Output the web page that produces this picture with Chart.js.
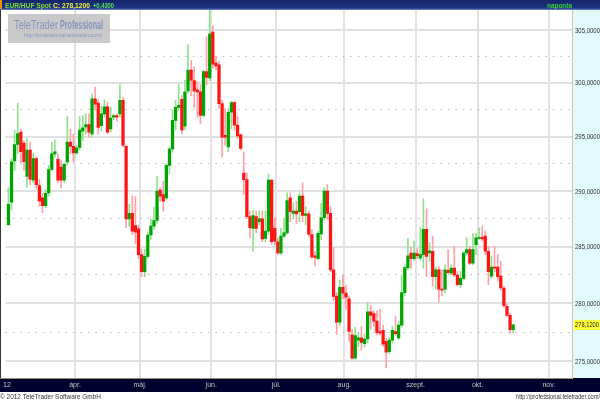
<!DOCTYPE html>
<html>
<head>
<meta charset="utf-8">
<script src="https://cdn.jsdelivr.net/npm/chart.js@4.4.1/dist/chart.umd.min.js"></script>
<style>
html,body{margin:0;padding:0;background:#fff;overflow:hidden}
#wrap{width:600px;height:400px}
</style>
</head>
<body>
<div id="wrap"><canvas id="chart" width="600" height="400"></canvas></div>
<script>
// daily EUR/HUF candles, 1 Mar 2012 .. 16 Oct 2012 (trading days)
const opens=[286.97,289.0,292.76,294.27,295.4,294.4,291.35,293.75,291.0,292.97,
290.5,289.4,288.7,289.85,291.97,293.4,292.9,292.2,291.0,292.66,
294.5,294.1,293.5,294.0,295.5,295.9,296.1,295.25,298.5,298.1,
296.0,297.1,297.75,295.7,296.8,296.95,297.1,298.35,294.1,287.5,
288.0,286.9,286.6,284.3,282.8,284.15,286.05,286.85,287.35,290.1,
289.7,289.4,292.35,293.85,296.5,297.7,298.45,295.95,299.25,301.2,
300.2,299.35,299.15,296.95,301.05,300.45,304.8,301.85,301.7,298.05,
295.1,294.05,297.25,298.15,296.05,295.15,291.65,291.05,287.7,286.65,
287.7,287.25,287.5,285.75,286.4,291.0,286.65,285.45,284.45,285.95,
286.25,289.4,288.0,288.2,288.15,289.55,287.8,287.95,286.1,284.2,
283.95,286.15,287.6,290.0,288.0,282.95,280.65,278.35,281.4,280.9,
280.4,277.25,275.25,276.8,277.0,276.5,276.9,279.25,279.1,278.45,
277.55,277.65,276.7,275.8,276.8,277.55,277.0,278.1,280.95,283.15,
284.45,283.95,284.4,284.0,284.3,286.55,284.45,284.6,282.35,282.95,
281.25,281.25,282.9,282.65,283.1,282.5,281.65,282.2,284.45,284.75,
283.55,285.2,285.75,285.85,285.95,284.6,282.4,283.2,283.2,282.4,
281.35,279.75,278.95,277.7];
const highs=[290.3,293.0,295.55,298.1,295.7,294.6,294.8,294.5,293.45,293.1,
291.05,289.8,290.15,292.35,294.5,294.7,293.4,292.8,292.6,296.9,
295.7,295.25,294.2,296.85,296.95,297.1,297.1,298.95,299.6,298.4,
297.8,298.4,298.2,297.75,297.1,297.1,299.8,298.65,294.2,288.8,
289.55,289.5,286.9,284.75,284.75,286.3,287.5,288.55,291.35,290.3,
290.9,292.5,294.05,297.45,298.35,299.8,298.8,300.25,303.6,302.1,
301.5,300.1,299.8,301.2,304.35,306.9,305.4,302.5,302.0,298.4,
297.6,297.6,298.3,298.3,296.85,295.25,293.6,291.65,288.2,288.25,
288.2,288.2,288.2,288.2,291.55,291.05,287.55,285.8,286.65,287.55,
289.85,289.85,288.95,289.1,289.85,290.75,288.6,288.2,286.55,284.6,
286.4,288.9,290.3,290.6,288.6,284.9,280.95,282.05,282.5,281.6,
280.65,277.7,277.9,277.4,278.0,277.35,280.1,279.8,279.35,279.35,
279.5,278.1,276.95,277.0,278.0,278.9,278.4,282.5,283.4,285.75,
284.95,285.5,284.85,286.7,289.3,288.4,285.35,285.95,283.25,283.25,
282.95,283.4,284.75,283.4,285.05,282.8,282.8,284.6,285.8,285.05,
286.2,286.2,286.7,286.85,286.4,285.05,284.15,285.05,284.3,283.7,
281.5,279.95,279.15,278.2];
const lows=[286.85,288.3,291.9,293.45,292.6,291.9,290.35,290.6,290.75,290.15,
288.65,288.05,288.5,289.55,291.9,293.1,290.75,290.3,290.75,292.35,
293.4,292.66,293.3,293.75,294.65,295.25,294.95,294.95,297.45,295.25,
295.5,296.8,295.25,295.4,296.55,296.4,296.8,294.05,286.7,286.85,
286.1,285.3,283.95,282.35,282.35,283.95,285.65,286.55,287.1,289.1,
288.2,289.25,291.6,293.55,295.6,297.45,295.25,295.6,299.0,298.8,
297.7,296.8,296.2,296.8,299.8,300.2,301.35,301.2,297.6,293.1,
294.2,293.6,295.7,295.6,294.85,293.75,289.7,287.55,285.8,284.6,
286.25,286.95,285.45,285.45,286.1,285.2,285.2,284.3,284.3,285.8,
286.1,287.25,287.5,287.1,287.25,287.25,286.95,285.95,283.95,283.3,
283.85,285.65,287.4,287.45,282.8,280.25,277.3,278.05,280.4,279.5,
276.7,275.15,275.15,276.25,275.95,276.2,276.55,277.75,277.95,277.25,
277.25,276.25,274.4,275.6,276.55,277.2,276.85,277.9,280.65,282.95,
283.05,283.75,283.95,283.85,283.1,282.35,283.7,281.5,281.25,280.1,
280.65,280.9,282.65,282.5,282.35,281.5,281.35,282.05,284.3,283.4,
283.4,284.3,285.65,285.5,284.3,281.65,282.2,282.8,281.95,281.15,
279.65,278.9,277.4,277.4];
const closes=[288.8,292.67,294.27,295.27,293.6,292.7,293.75,291.1,292.97,290.6,
289.1,288.7,289.8,291.97,293.4,293.6,291.0,291.0,292.45,294.5,
294.1,293.5,293.95,295.6,295.8,296.1,295.4,298.5,298.0,295.85,
297.1,297.75,295.4,296.7,296.95,296.8,298.35,294.2,287.5,288.0,
286.4,286.3,284.3,282.8,284.15,286.05,286.85,287.35,290.0,289.55,
289.1,292.35,293.85,296.5,297.7,297.9,295.6,299.15,301.2,300.25,
299.25,299.15,296.95,301.05,300.5,304.6,301.75,301.6,298.05,294.95,
294.95,297.25,298.15,296.05,295.05,293.9,291.05,287.7,286.7,287.8,
286.65,287.5,285.7,286.4,291.0,285.45,285.5,284.45,285.95,286.25,
289.15,288.15,288.2,287.95,289.55,287.8,287.95,286.1,284.1,284.05,
286.2,287.6,290.0,288.0,282.95,280.6,278.35,281.4,280.9,280.55,
277.55,275.25,277.2,277.0,276.6,276.9,279.25,278.95,278.45,277.45,
277.4,276.45,275.75,276.8,277.65,277.35,278.1,280.95,283.15,284.2,
283.95,284.45,284.2,284.3,286.55,284.15,284.65,282.35,282.95,281.25,
281.15,282.95,282.7,283.1,282.5,281.65,282.2,284.45,284.75,283.55,
284.75,285.8,285.85,285.7,284.6,282.8,283.2,283.1,282.35,281.35,
279.8,278.95,277.7,278.12];

// month boundaries in trading-day index, and their labels
const monthTicks=[-0.5,21.5,42.5,65.5,86.5,108.5,131.5,151.5,174.5];
const monthLabels=["12","ápr.","máj.","jún.","júl.","aug.","szept.","okt.","nov."];
const priceTicks=[275,277.5,280,282.5,285,287.5,290,292.5,295,297.5,300,302.5,305];

const GREEN="#00a400", RED="#ff1414";
const GREEN_W="#8ee28e", RED_W="#ffa0a6";

const up=closes.map((c,i)=>c>=opens[i]);
const fmt=v=>v.toFixed(4).replace(".",",");

function fitText(ctx,txt,x,y,w){
const m=ctx.measureText(txt).width;
ctx.save();
ctx.translate(x,y);
if(m>w) ctx.scale(w/m,1);
ctx.fillText(txt,0,0);
ctx.restore();
}

const decor={
id:"decor",
beforeDraw(chart){
const c=chart.ctx;
const a=chart.chartArea;
c.save();
c.fillStyle="#ffffff";
c.fillRect(0,0,600,400);
// right price panel
c.fillStyle="#e3fafc";
c.fillRect(a.right,a.top,600-a.right,a.bottom-a.top);
// top bar
const g=c.createLinearGradient(0,0,0,a.top);
g.addColorStop(0,"#15256a");
g.addColorStop(0.8,"#1d3482");
g.addColorStop(1,"#6d86c8");
c.fillStyle=g;
c.fillRect(0,0,600,a.top);
c.fillStyle="#f08a00";
c.fillRect(0,0,2,a.top-1);
// bottom date bar
c.fillStyle="#00002e";
c.fillRect(0,a.bottom,600,14);
c.fillStyle="#8f8f74";
c.fillRect(0,a.bottom,a.right,1);
// left edge
c.fillStyle="#333";
c.fillRect(0,a.top,1,a.bottom-a.top);
c.restore();
},
beforeDatasetsDraw(chart){
const c=chart.ctx;
c.save();
c.fillStyle="rgba(196,196,200,0.92)";
c.fillRect(8,14,102,29);
c.fillStyle="#8595ba";
c.textBaseline="alphabetic";
c.font="12px 'Liberation Sans', Arial";
fitText(c,"TeleTrader",14,29,44);
c.font="bold 12px 'Liberation Sans', Arial";
fitText(c,"Professional",60,29,43);
c.font="6px 'Liberation Sans', Arial";
fitText(c,"http://professional.teletrader.com/",24,37,78);
c.restore();
},
afterDraw(chart){
const c=chart.ctx;
const a=chart.chartArea;
const ys=chart.scales.y;
c.save();
// price labels of the right axis
c.fillStyle="#333";
c.font="7.5px 'Liberation Sans', Arial";
c.textBaseline="middle";
ys.ticks.forEach(t=>{
if(t.value%5===0) fitText(c,fmt(t.value),a.right+3,ys.getPixelForValue(t.value)+0.5,25);
});
c.textBaseline="alphabetic";
c.font="bold 8px 'Liberation Sans', Arial";
c.fillStyle="#7fd833";
fitText(c,"EUR/HUF Spot",5,8,46);
c.fillStyle="#f4f03a";
fitText(c,"C: 278,1200",53,8,37);
c.fillStyle="#4fe04f";
fitText(c,"+0,4300",93,8,21);
c.fillStyle="#2fd02f";
c.font="bold 7px 'Liberation Sans', Arial";
fitText(c,"naponta",547,8,25);
// last price label
const last=closes[closes.length-1];
const py=ys.getPixelForValue(last);
c.fillStyle="#ffff38";
c.fillRect(a.right+2,py-5,26,10);
c.fillStyle="#222";
c.font="7.5px 'Liberation Sans', Arial";
c.textBaseline="middle";
fitText(c,fmt(last),a.right+3,py+0.5,24);
// footer
c.textBaseline="alphabetic";
c.fillStyle="#333";
c.font="7px 'Liberation Sans', Arial";
fitText(c,"© 2012 TeleTrader Software GmbH",0,399,101);
fitText(c,"http://professional.teletrader.com/",516,399,84);
c.restore();
}
};

new Chart(document.getElementById("chart"),{
type:"bar",
data:{
datasets:[
{
label:"body",
data:opens.map((o,i)=>({x:i,y:[o,closes[i]]})),
backgroundColor:up.map(u=>u?GREEN:RED),
barThickness:2.6,
minBarLength:1,
grouped:false
},
{
label:"wick",
data:lows.map((l,i)=>({x:i,y:[l,highs[i]]})),
backgroundColor:up.map(u=>u?GREEN_W:RED_W),
barThickness:1,
grouped:false
}
]
},
options:{
responsive:false,
animation:false,
events:[],
layout:{padding:{top:10,left:2,right:0,bottom:8}},
plugins:{legend:{display:false},tooltip:{enabled:false}},
scales:{
x:{
type:"linear",
min:-1,
max:182,
offset:false,
afterBuildTicks:s=>{s.ticks=monthTicks.map(v=>({value:v}));},
afterFit:s=>{s.height=14;},
grid:{
offset:false,
drawTicks:false,
lineWidth:2,
color:c=>c.index===0?"rgba(0,0,0,0)":"#e2e2e2"
},
border:{display:false},
ticks:{
autoSkip:false,
maxRotation:0,
padding:3,
color:"#c4c4c4",
font:{size:7,family:"'Liberation Sans', Arial"},
callback:(v,i)=>monthLabels[i]
}
},
y:{
type:"logarithmic",
position:"right",
min:273.54,
max:306.91,
afterBuildTicks:s=>{s.ticks=priceTicks.map(v=>({value:v}));},
afterFit:s=>{s.width=28;},
grid:{
drawTicks:false,
lineWidth:c=>c.tick&&c.tick.value%5!==0?1:2,
color:c=>c.tick&&c.tick.value%5!==0?"#bcbcbc":"#e0e0e0"
},
border:{
display:true,
color:"#cccc9a",
dash:c=>c.tick&&c.tick.value%5!==0?[1.5,6]:[]
},
ticks:{
display:false
}
}
}
},
plugins:[decor]
});
</script>
</body>
</html>
